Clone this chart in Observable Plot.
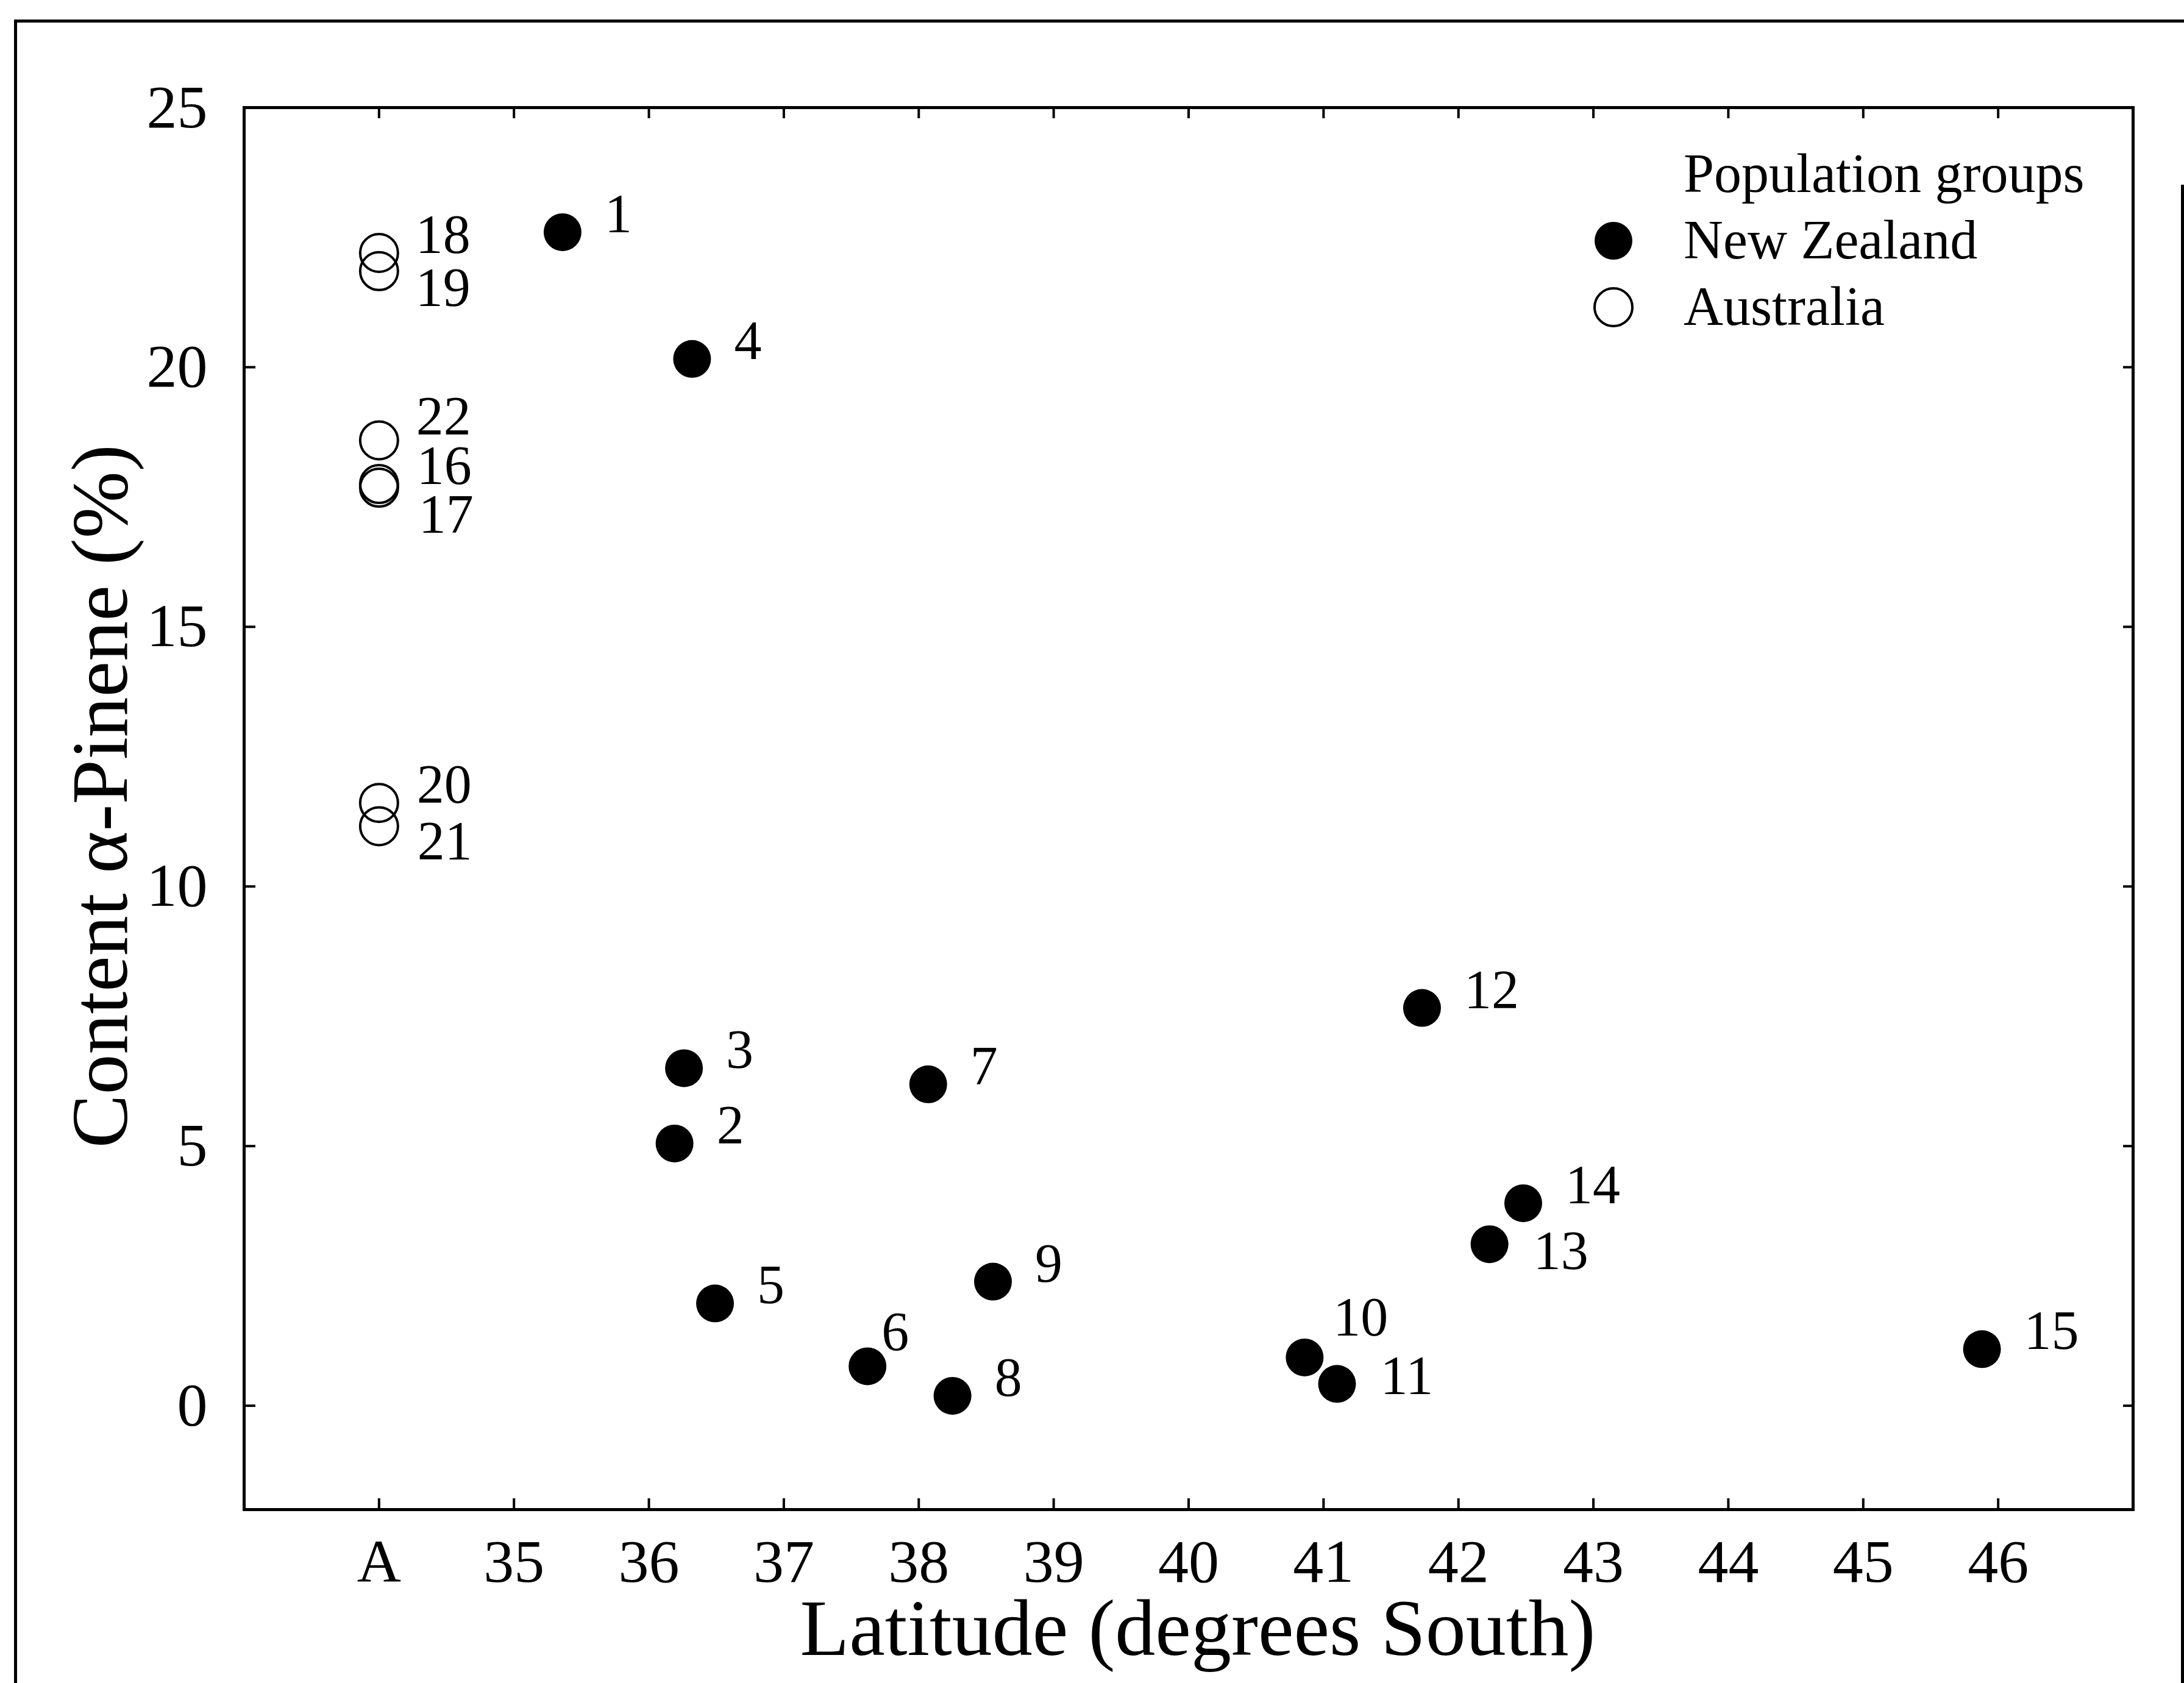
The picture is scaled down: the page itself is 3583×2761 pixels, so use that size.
<!DOCTYPE html>
<html>
<head>
<meta charset="utf-8">
<script src="https://cdn.jsdelivr.net/npm/d3@7"></script>
<script src="https://cdn.jsdelivr.net/npm/@observablehq/plot@0.6"></script>
<style>
  html, body { margin: 0; padding: 0; background: #fff; }
  #wrap { position: relative; width: 3583px; height: 2761px; overflow: hidden; background: #fff; }
  #wrap > svg { position: absolute; left: 0; top: 0; }
  .edge { position: absolute; background: #000; }
</style>
</head>
<body>
<div id="wrap"></div>
<script>
// ---------------- data ----------------
const xTickValues = [34, 35, 36, 37, 38, 39, 40, 41, 42, 43, 44, 45, 46];
const xTickLabels = ["A", "35", "36", "37", "38", "39", "40", "41", "42", "43", "44", "45", "46"];
const yTickValues = [0, 5, 10, 15, 20, 25];

// New Zealand populations: latitude (degrees South) and alpha-pinene content (%)
const nzIds      = [1, 2, 3, 4, 5, 6, 7, 8, 9, 10, 11, 12, 13, 14, 15];
const nzLatitude = [35.36, 36.19, 36.26, 36.32, 36.49, 37.62, 38.07, 38.25, 38.55, 40.86, 41.10, 41.73, 42.23, 42.48, 45.88];
const nzPinene   = [22.6, 5.05, 6.50, 20.16, 1.97, 0.76, 6.19, 0.19, 2.39, 0.93, 0.42, 7.66, 3.11, 3.90, 1.09];

// Australian populations: all plotted at position "A"
const auIds    = [16, 17, 18, 19, 20, 21, 22];
const auPinene = [17.75, 17.68, 22.2, 21.85, 11.61, 11.16, 18.59];
const auPositionLabel = "A";

const groupNames = ["New Zealand", "Australia"];
const legendTitle = "Population groups";
const xTitle = "Latitude (degrees South)";
const yTitle = "Content \u03b1-Pinene (%)";

// ---------------- label nudges (pixels: dx, baseline dy) ----------------
const labelNudge = {
  6: [23, -26], 10: [47, -36], 11: [71, 17], 13: [72, 41],
  16: [62, 0], 17: [65, 74], 18: [60, 0], 19: [60, 57], 20: [62, 0], 21: [63, 55], 22: [61, -10]
};
const defaultNudge = [69, 0];

// ---------------- tables ----------------
const auX = xTickValues[xTickLabels.indexOf(auPositionLabel)];
const nz = nzIds.map((id, i) => ({id, x: nzLatitude[i], y: nzPinene[i], group: groupNames[0]}));
const au = auIds.map((id, i) => ({id, x: auX, y: auPinene[i], group: groupNames[1]}));
const all = nz.concat(au);

// group labels by nudge
const nudgeGroups = d3.groups(all, d => (labelNudge[d.id] || defaultNudge).join(","));

// ---------------- layout ----------------
const W = 3583, H = 2761;
const mL = 400, mR = 84, mT = 176, mB = 285;
const plotW = W - mL - mR, plotH = H - mT - mB;
const FONT = "'Liberation Serif', 'Times New Roman', serif";

const chart = Plot.plot({
  width: W,
  height: H,
  marginLeft: mL, marginRight: mR, marginTop: mT, marginBottom: mB,
  style: {fontFamily: FONT, fontSize: "100px", background: "#fff", color: "#000", overflow: "visible"},
  x: {domain: [33, 47]},
  y: {domain: [-2, 25]},
  marks: [
    Plot.frame({stroke: "#000", strokeWidth: 5}),
    // inward ticks on all four sides
    Plot.ruleX(xTickValues, {x: d => d, insetTop: plotH - 18, stroke: "#000", strokeWidth: 4}),
    Plot.ruleX(xTickValues, {x: d => d, insetBottom: plotH - 18, stroke: "#000", strokeWidth: 4}),
    Plot.ruleY(yTickValues, {y: d => d, insetRight: plotW - 19, stroke: "#000", strokeWidth: 4}),
    Plot.ruleY(yTickValues, {y: d => d, insetLeft: plotW - 16, stroke: "#000", strokeWidth: 4}),
    Plot.axisX(xTickValues, {
      anchor: "bottom", tickSize: 0, tickPadding: 47, fontSize: 100, label: null,
      tickFormat: d => xTickLabels[xTickValues.indexOf(d)]
    }),
    Plot.axisY(yTickValues, {
      anchor: "left", tickSize: 0, tickPadding: 60, fontSize: 100, label: null,
      tickFormat: d => String(d)
    }),
    // points
    Plot.dot(au, {x: "x", y: "y", r: 31, fill: "none", stroke: "#000", strokeWidth: 4}),
    Plot.dot(nz, {x: "x", y: "y", r: 31, fill: "#000", stroke: "none"}),
    // point labels
    ...nudgeGroups.map(([key, rows]) => {
      const [dx, dy] = key.split(",").map(Number);
      return Plot.text(rows, {
        x: "x", y: "y", text: d => String(d.id), dx, dy,
        textAnchor: "start", lineAnchor: "bottom", fontSize: 90, fill: "#000"
      });
    }),
    // axis titles
    Plot.text([xTitle], {
      text: d => d, frameAnchor: "bottom", textAnchor: "middle", lineAnchor: "bottom",
      dx: 15, dy: 238, fontSize: 132, fill: "#000"
    }),
    Plot.text([yTitle], {
      text: d => d, frameAnchor: "left", textAnchor: "middle", lineAnchor: "bottom",
      rotate: -90, dx: -193, dy: -20, fontSize: 132, fill: "#000"
    })
  ]
});

const wrap = document.getElementById("wrap");
wrap.appendChild(chart);

// ---------------- legend (overlay) ----------------
const ns = "http://www.w3.org/2000/svg";
const leg = document.createElementNS(ns, "svg");
leg.setAttribute("width", W);
leg.setAttribute("height", H);
leg.style.position = "absolute";
leg.style.left = "0px";
leg.style.top = "0px";
leg.style.pointerEvents = "none";
leg.setAttribute("font-family", FONT);
leg.setAttribute("font-size", "90");
function addText(x, y, s) {
  const t = document.createElementNS(ns, "text");
  t.setAttribute("x", x); t.setAttribute("y", y); t.setAttribute("fill", "#000");
  t.textContent = s; leg.appendChild(t);
}
addText(2762, 315, legendTitle);
groupNames.forEach((g, i) => {
  const cy = 395 + i * 109;
  const c = document.createElementNS(ns, "circle");
  c.setAttribute("cx", 2647); c.setAttribute("cy", cy); c.setAttribute("r", 31);
  if (i === 0) { c.setAttribute("fill", "#000"); }
  else { c.setAttribute("fill", "none"); c.setAttribute("stroke", "#000"); c.setAttribute("stroke-width", 4); }
  leg.appendChild(c);
  addText(2762, 424 + i * 109, g);
});
wrap.appendChild(leg);

// ---------------- outer page frame ----------------
function edge(l, t, w, h) {
  const d = document.createElement("div");
  d.className = "edge";
  d.style.left = l + "px"; d.style.top = t + "px"; d.style.width = w + "px"; d.style.height = h + "px";
  wrap.appendChild(d);
}
edge(23, 32, W - 23, 5);
edge(23, 32, 5, H - 32);
edge(W - 5, 303, 5, H - 303);
</script>
</body>
</html>
